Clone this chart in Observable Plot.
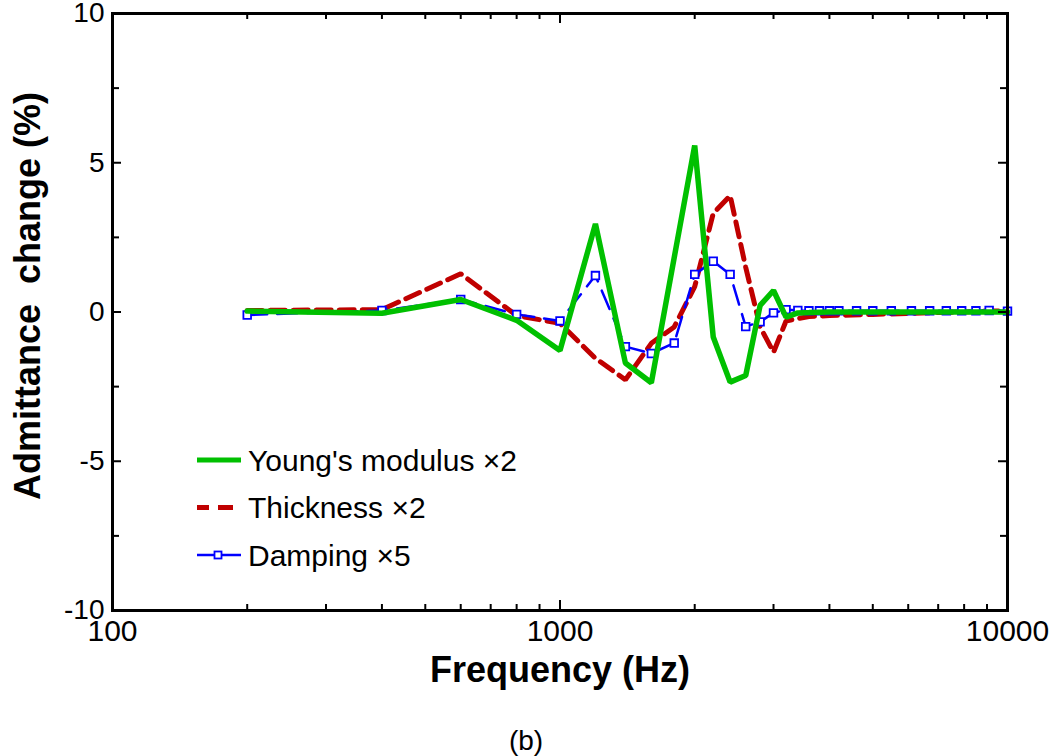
<!DOCTYPE html>
<html>
<head>
<meta charset="utf-8">
<script src="https://cdn.jsdelivr.net/npm/d3@7"></script>
<script src="https://cdn.jsdelivr.net/npm/@observablehq/plot@0.6"></script>
<style>
  html, body { margin: 0; padding: 0; background: #fff; }
  svg text { white-space: pre; }
</style>
</head>
<body>
<div id="chart"></div>
<script>
// Young's modulus ×2 (green solid)
const youngFreq = [200, 400, 600, 800, 1000, 1200, 1400, 1600, 2000, 2200, 2400, 2600, 2800, 3000, 3200, 3400, 3600, 4000, 5000, 6000, 7000, 8000, 9000, 10000];
const youngVal  = [0.03, -0.04, 0.42, -0.28, -1.29, 2.95, -1.71, -2.37, 5.58, -0.84, -2.35, -2.13, 0.22, 0.72, -0.17, -0.03, -0.02, 0.0, 0.0, 0.0, 0.0, 0.0, 0.0, 0.0];

// Thickness ×2 (red dashed)
const thickFreq = [200, 400, 600, 800, 1000, 1200, 1400, 1600, 1800, 2000, 2200, 2400, 2600, 2800, 3000, 3200, 3400, 3600, 4000, 4500, 5000, 6000, 7000, 8000, 9000, 10000];
const thickVal  = [0.05, 0.08, 1.28, -0.12, -0.38, -1.55, -2.27, -1.05, -0.5, 0.85, 3.3, 3.9, 1.5, -0.5, -1.35, -0.3, -0.22, -0.15, -0.12, -0.1, -0.08, -0.05, -0.02, 0.0, 0.03, 0.03];

// Damping ×5 (blue dashed with squares)
const dampFreq = [200, 400, 600, 800, 1000, 1200, 1400, 1600, 1800, 2000, 2200, 2400, 2600, 2800, 3000, 3200, 3400, 3600, 3800, 4000, 4200, 4600, 5000, 5500, 6100, 6700, 7300, 7900, 8500, 9100, 10000];
const dampVal  = [-0.1, 0.05, 0.42, -0.08, -0.3, 1.22, -1.16, -1.39, -1.04, 1.26, 1.7, 1.26, -0.49, -0.33, -0.03, 0.08, 0.05, 0.04, 0.04, 0.04, 0.04, 0.04, 0.04, 0.04, 0.04, 0.04, 0.04, 0.04, 0.04, 0.05, 0.03];

// Axis ticks
const xMajor = [100, 1000, 10000];
const xMinor = [200, 300, 400, 500, 600, 700, 800, 900, 2000, 3000, 4000, 5000, 6000, 7000, 8000, 9000];
const yMajor = [-10, -5, 0, 5, 10];
const yMinor = [-7.5, -2.5, 2.5, 7.5];

const legendItems = [
  {label: "Young's modulus \u00d72", color: "#00c000", width: 5, dash: null, marker: false},
  {label: "Thickness \u00d72", color: "#c00000", width: 5, dash: "15,9", marker: false},
  {label: "Damping \u00d75", color: "#0000ff", width: 2.5, dash: null, marker: true}
];

const young = youngFreq.map((f, i) => ({f, v: youngVal[i]}));
const thick = thickFreq.map((f, i) => ({f, v: thickVal[i]}));
const damp  = dampFreq.map((f, i) => ({f, v: dampVal[i]}));

const W = 1050, H = 756, mL = 112, mR = 43, mT = 13, mB = 146;
const fw = W - mL - mR, fh = H - mT - mB;

function legendMark() {
  return () => {
    const g = d3.create("svg:g");
    legendItems.forEach((it, i) => {
      const y = 460 + i * 47.5;
      const ln = g.append("line").attr("x1", 197).attr("x2", 241).attr("y1", y).attr("y2", y)
        .attr("stroke", it.color).attr("stroke-width", it.width);
      if (it.dash) ln.attr("stroke-dasharray", it.dash).attr("stroke-dashoffset", 3);
      if (it.marker) {
        g.append("rect").attr("x", 214.5).attr("y", y - 3.5).attr("width", 7).attr("height", 7)
          .attr("fill", "white").attr("stroke", it.color).attr("stroke-width", 1.8);
      }
      g.append("text").attr("x", 248).attr("y", y).attr("dy", "0.35em")
        .attr("text-anchor", "start")
        .attr("font-size", 30).attr("fill", "black").text(it.label);
    });
    return g.node();
  };
}

const chart = Plot.plot({
  width: W, height: H,
  marginLeft: mL, marginRight: mR, marginTop: mT, marginBottom: mB,
  x: {type: "log", domain: [100, 10000]},
  y: {domain: [-10, 10]},
  style: {fontFamily: "Arial, 'Liberation Sans', sans-serif", background: "white", color: "black"},
  marks: [
    // data lines
    Plot.line(thick, {x: "f", y: "v", stroke: "#c00000", strokeWidth: 5, strokeDasharray: "15,8", strokeLinejoin: "miter"}),
    Plot.line(damp, {x: "f", y: "v", stroke: "#0000ff", strokeWidth: 2.5, strokeDasharray: "20,10"}),
    Plot.dot(damp, {x: "f", y: "v", symbol: "square", r: 4.3, fill: "white", stroke: "#0000ff", strokeWidth: 1.8}),
    Plot.line(young, {x: "f", y: "v", stroke: "#00c000", strokeWidth: 5.5, strokeLinejoin: "miter"}),
    // inward ticks bottom/top
    Plot.tickX(xMajor, {x: d => d, insetTop: fh - 10, stroke: "black", strokeWidth: 2}),
    Plot.tickX(xMinor, {x: d => d, insetTop: fh - 6, stroke: "black", strokeWidth: 2}),
    Plot.tickX(xMajor, {x: d => d, insetBottom: fh - 10, stroke: "black", strokeWidth: 2}),
    Plot.tickX(xMinor, {x: d => d, insetBottom: fh - 6, stroke: "black", strokeWidth: 2}),
    // inward ticks left/right
    Plot.tickY(yMajor, {y: d => d, insetRight: fw - 9, stroke: "black", strokeWidth: 2}),
    Plot.tickY(yMinor, {y: d => d, insetRight: fw - 7, stroke: "black", strokeWidth: 2}),
    Plot.tickY(yMajor, {y: d => d, insetLeft: fw - 9, stroke: "black", strokeWidth: 2}),
    Plot.tickY(yMinor, {y: d => d, insetLeft: fw - 7, stroke: "black", strokeWidth: 2}),
    // tick labels
    Plot.axisX(xMajor, {anchor: "bottom", tickSize: 0, tickPadding: 9, fontSize: 30, tickFormat: d => String(d), label: null}),
    Plot.axisY(yMajor, {anchor: "left", tickSize: 0, tickPadding: 8, fontSize: 28, tickFormat: d => String(d), label: null}),
    // frame
    Plot.frame({stroke: "black", strokeWidth: 3}),
    // titles
    Plot.text(["Frequency (Hz)"], {frameAnchor: "bottom", dy: 60, lineAnchor: "middle", textAnchor: "middle", fontSize: 36, fontWeight: "bold", fill: "black"}),
    Plot.text(["Admittance  change (%)"], {frameAnchor: "left", dx: -84, dy: -16, rotate: -90, lineAnchor: "middle", textAnchor: "middle", fontSize: 36, fontWeight: "bold", fill: "black"}),
    Plot.text(["(b)"], {frameAnchor: "bottom", dx: -34, dy: 131, lineAnchor: "middle", textAnchor: "middle", fontSize: 28, fill: "black"}),
    legendMark()
  ]
});
document.getElementById("chart").appendChild(chart);
</script>
</body>
</html>
